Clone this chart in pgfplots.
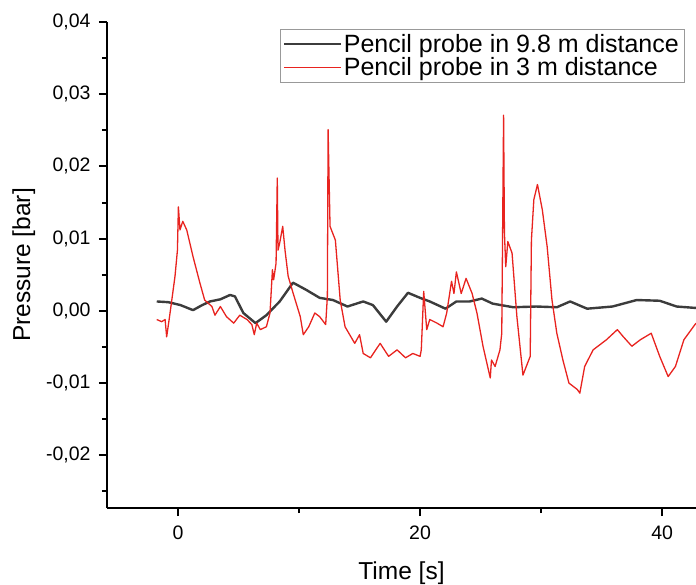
\documentclass[border=0pt]{standalone}
\usepackage{fontspec}
\setmainfont{Liberation Sans}
\usepackage{pgfplots}
\usepackage{pgfplotstable}
\pgfplotsset{compat=1.18}
\definecolor{gline}{HTML}{3C3C3C}
\definecolor{rline}{HTML}{E8231F}
\pgfplotstableread{
x y
-1.76 0.0013
-0.8 0.0012
0.2 0.0008
1.24 0.0001
2.0 0.0008
2.64 0.0013
3.5 0.0016
4.3 0.0022
4.7 0.0020
5.4 -0.0003
6.4 -0.0017
7.3 -0.0006
8.4 0.0013
9.5 0.0039
10.6 0.0029
11.7 0.0018
12.8 0.0015
14.0 0.0006
15.3 0.0013
16.1 0.0008
17.2 -0.0015
18.1 0.0006
19.0 0.0025
20.0 0.0018
20.8 0.0013
22.1 0.0003
23.0 0.0013
24.1 0.0013
25.1 0.0017
26.0 0.0010
27.7 0.0005
29.6 0.0006
31.3 0.0005
32.4 0.0013
33.8 0.0003
35.9 0.0006
37.9 0.0015
39.8 0.0014
41.2 0.0006
42.8 0.0004
}\blackdata
\pgfplotstableread{
x y
-1.76 -0.0012
-1.35 -0.0015
-1.07 -0.0012
-0.94 -0.0036
-0.66 -0.0003
-0.25 0.0048
-0.05 0.0084
0.03 0.0144
0.16 0.0112
0.39 0.0124
0.72 0.0112
1.24 0.0075
1.8 0.0039
2.2 0.0015
2.8 0.0006
3.05 -0.0006
3.5 0.0006
4.0 -0.0008
4.6 -0.0017
5.1 -0.0006
5.7 -0.0012
6.1 -0.0019
6.3 -0.0033
6.5 -0.0017
6.8 -0.0026
7.3 -0.0022
7.6 -0.0003
7.8 0.0057
7.9 0.0043
8.1 0.0066
8.2 0.0184
8.26 0.0084
8.4 0.0094
8.65 0.0117
8.84 0.0084
9.1 0.0048
9.5 0.0025
10.1 -0.0008
10.35 -0.0033
10.8 -0.0022
11.3 -0.0003
11.7 -0.0008
12.2 -0.0019
12.34 0.0020
12.4 0.0251
12.56 0.0117
13.0 0.0098
13.4 0.0015
13.8 -0.0022
14.6 -0.0045
15.0 -0.0033
15.3 -0.0059
15.9 -0.0065
16.7 -0.0045
17.4 -0.0063
18.1 -0.0054
18.8 -0.0065
19.4 -0.0059
20.0 -0.0063
20.1 -0.0054
20.3 0.0027
20.55 -0.0026
20.8 -0.0012
21.4 -0.0017
21.9 -0.0022
22.2 -0.0003
22.6 0.0041
22.8 0.0024
23.0 0.0054
23.4 0.0024
23.8 0.0045
24.3 0.0024
24.7 -0.0003
25.2 -0.0049
25.8 -0.0093
25.9 -0.0068
26.2 -0.0077
26.6 -0.0054
26.75 -0.0031
26.9 0.0271
26.97 0.0108
27.08 0.0061
27.25 0.0096
27.6 0.0080
28.0 -0.0008
28.5 -0.0089
29.1 -0.0063
29.2 0.0098
29.4 0.0154
29.7 0.0175
30.1 0.0140
30.5 0.0089
30.9 0.0015
31.3 -0.0031
31.8 -0.0068
32.3 -0.0100
33.0 -0.0109
33.2 -0.0114
33.6 -0.0077
34.3 -0.0054
35.4 -0.0040
36.3 -0.0026
36.8 -0.0036
37.5 -0.0049
38.2 -0.0040
39.1 -0.0031
39.8 -0.0063
40.5 -0.0091
41.1 -0.0077
41.8 -0.0040
42.8 -0.0017
}\reddata
\begin{document}
\begin{tikzpicture}
\path[use as bounding box] (-107pt,-76pt) rectangle (589pt,508pt);
\begin{axis}[
  at={(0pt,0pt)}, anchor=south west,
  scale only axis, width=589pt, height=486pt,
  xmin=-5.87, xmax=42.8, ymin=-0.0273, ymax=0.04,
  axis x line*=bottom, axis y line*=left,
  axis line style={line width=2pt, -},
  xtick={0,20,40}, minor xtick={10,30},
  ytick={-0.02,-0.01,0,0.01,0.02,0.03,0.04},
  minor ytick={-0.025,-0.015,-0.005,0.005,0.015,0.025,0.035},
  tick align=outside,
  major tick length=8pt, minor tick length=5pt,
  every tick/.style={line width=2pt, black},
  scaled y ticks=false,
  /pgf/number format/assume math mode=true,
  yticklabel style={/pgf/number format/.cd, fixed, fixed zerofill, precision=2, use comma, /tikz/.cd, xshift=-5pt},
  xticklabel style={yshift=-6pt},
  tick label style={font=\fontsize{19.5}{22}\selectfont},
  label style={font=\fontsize{24.5}{28}\selectfont},
  xlabel={Time [s]}, ylabel={Pressure [bar]},
  xlabel style={yshift=-16pt},
  ylabel style={yshift=4pt},
  legend style={at={(1,1)}, anchor=north east, xshift=-12pt, yshift=-7pt,
    draw=gray!80, font=\fontsize{25}{29}\selectfont,
    inner xsep=3pt, inner ysep=3pt},
  legend cell align=left,
  legend image code/.code={\draw[#1, line width=1.4pt] (0pt,0pt) -- (57pt,0pt);},
]
\addplot[gline, line width=2.4pt, line join=round] table[x=x,y=y] {\blackdata};
\addlegendentry{\rule[-8pt]{0pt}{23pt}Pencil probe in 9.8 m distance}
\addplot[rline, line width=1.3pt, line join=round] table[x=x,y=y] {\reddata};
\addlegendentry{\rule[-8pt]{0pt}{23pt}Pencil probe in 3 m distance}
\end{axis}
\end{tikzpicture}
\end{document}
